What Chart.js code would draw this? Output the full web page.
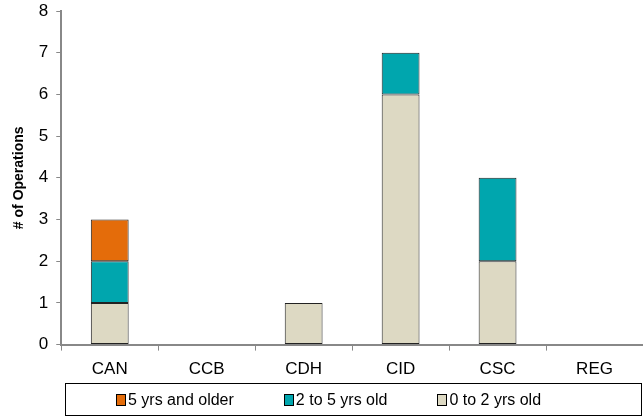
<!DOCTYPE html>
<html>
<head>
<meta charset="utf-8">
<script src="https://cdn.jsdelivr.net/npm/chart.js@4/dist/chart.umd.min.js"></script>
<style>
  html, body { margin: 0; padding: 0; background: #fff; }
  #wrap { position: relative; width: 643px; height: 417px; }
  #legend {
    position: absolute; left: 65px; top: 383px; width: 525px; height: 31px;
    border: 1px solid #000; box-sizing: content-box; padding-left: 50px;
    display: flex; align-items: center; justify-content: flex-start; gap: 50px;
    font-family: "Liberation Sans", Arial, sans-serif; font-size: 16px; color: #000;
  }
  .item { display: flex; align-items: center; }
  .swatch { width: 8px; height: 10px; border: 1px solid #000; margin-right: 2px; }
</style>
</head>
<body>
<div id="wrap">
  <canvas id="chart" width="643" height="417"></canvas>
  <div id="legend"></div>
</div>
<script>
const categories = ['CAN', 'CCB', 'CDH', 'CID', 'CSC', 'REG'];
const age0to2 = [1, 0, 1, 6, 2, 0];
const age2to5 = [1, 0, 0, 1, 2, 0];
const age5plus = [1, 0, 0, 0, 0, 0];
const seriesNames = ['0 to 2 yrs old', '2 to 5 yrs old', '5 yrs and older'];
const seriesColors = ['#DDD9C3', '#00A6AE', '#E46C0A'];
const yTicks = [0, 1, 2, 3, 4, 5, 6, 7, 8];

const font = { family: '"Liberation Sans", Arial, sans-serif', size: 17 };
const values = [age0to2, age2to5, age5plus];

const datasets = values.map((v, i) => ({
  label: seriesNames[i],
  data: v,
  backgroundColor: seriesColors[i],
  borderColor: '#222',
  borderWidth: (ctx) => (ctx.raw ? 1 : 0),
  borderSkipped: false,
  barPercentage: 0.39,
  categoryPercentage: 1
}));

new Chart(document.getElementById('chart'), {
  type: 'bar',
  data: { labels: categories, datasets },
  options: {
    responsive: false,
    animation: false,
    layout: { padding: { top: 0, right: 0, bottom: 28, left: 2 } },
    plugins: { legend: { display: false }, tooltip: { enabled: false } },
    scales: {
      x: {
        stacked: true,
        grid: { offset: true, drawOnChartArea: false, drawTicks: true, tickLength: 6, color: '#888' },
        border: { color: '#888', width: 2 },
        ticks: { color: '#000', font, padding: 9 }
      },
      y: {
        stacked: true,
        min: 0, max: 8,
        afterBuildTicks: (s) => { s.ticks = yTicks.map(v => ({ value: v })); },
        // let the top label sit close to the canvas edge
        afterFit: (s) => { s.paddingTop = 11; },
        grid: { drawOnChartArea: false, drawTicks: true, tickLength: 5, color: '#888' },
        border: { color: '#888', width: 2 },
        ticks: { color: '#000', font, padding: 8 },
        title: { display: true, text: '# of Operations', color: '#000', font: { family: font.family, size: 14, weight: 'bold' }, padding: { top: 9, bottom: 3 } }
      }
    }
  }
});

// legend, shown in reverse stacking order
const legend = document.getElementById('legend');
for (let i = seriesNames.length - 1; i >= 0; i--) {
  const item = document.createElement('div');
  item.className = 'item';
  const sw = document.createElement('span');
  sw.className = 'swatch';
  sw.style.background = seriesColors[i];
  const tx = document.createElement('span');
  tx.textContent = seriesNames[i];
  item.appendChild(sw);
  item.appendChild(tx);
  legend.appendChild(item);
}
</script>
</body>
</html>
